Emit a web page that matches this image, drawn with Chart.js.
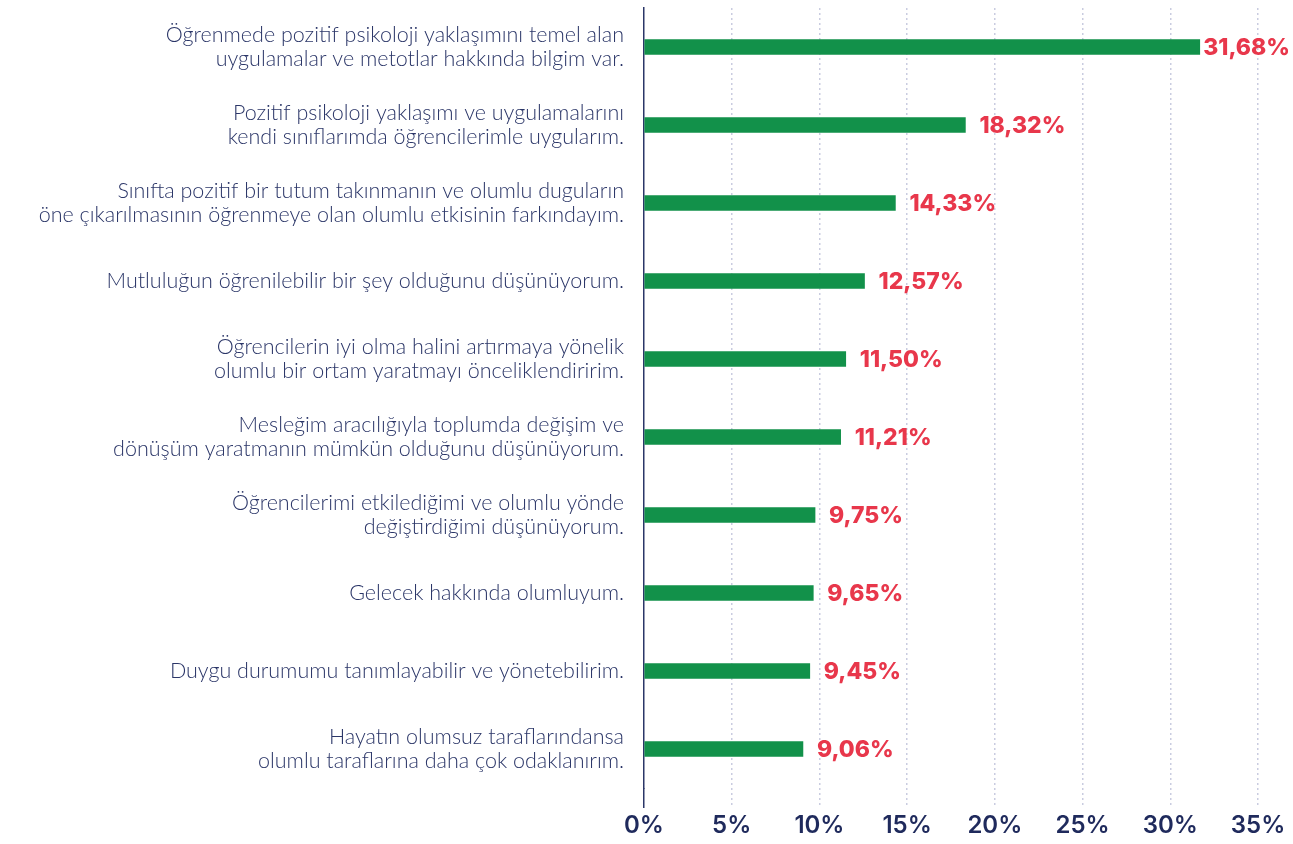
<!DOCTYPE html>
<html lang="tr">
<head>
<meta charset="utf-8">
<script src="https://cdn.jsdelivr.net/npm/chart.js@4"></script>
<style>
	html, body { margin: 0; padding: 0; background: #fff; }
	#wrap { width: 1293px; height: 844px; }
</style>
</head>
<body>
<div id="wrap"><canvas id="chart"></canvas></div>
<script>
var categories = [
	['Öğrenmede pozitif psikoloji yaklaşımını temel alan', 'uygulamalar ve metotlar hakkında bilgim var.'],
	['Pozitif psikoloji yaklaşımı ve uygulamalarını', 'kendi sınıflarımda öğrencilerimle uygularım.'],
	['Sınıfta pozitif bir tutum takınmanın ve olumlu duguların', 'öne çıkarılmasının öğrenmeye olan olumlu etkisinin farkındayım.'],
	['Mutluluğun öğrenilebilir bir şey olduğunu düşünüyorum.'],
	['Öğrencilerin iyi olma halini artırmaya yönelik', 'olumlu bir ortam yaratmayı önceliklendiririm.'],
	['Mesleğim aracılığıyla toplumda değişim ve', 'dönüşüm yaratmanın mümkün olduğunu düşünüyorum.'],
	['Öğrencilerimi etkilediğimi ve olumlu yönde', 'değiştirdiğimi düşünüyorum.'],
	['Gelecek hakkında olumluyum.'],
	['Duygu durumumu tanımlayabilir ve yönetebilirim.'],
	['Hayatın olumsuz taraflarındansa', 'olumlu taraflarına daha çok odaklanırım.']
];
var values = [31.68, 18.32, 14.33, 12.57, 11.50, 11.21, 9.75, 9.65, 9.45, 9.06];
var xTicks = [0, 5, 10, 15, 20, 25, 30, 35];

var navy = '#2b3668';
var green = '#12914a';
var red = '#e8374b';

// value labels to the right of each bar
var valueLabels = {
	id: 'valueLabels',
	afterDatasetsDraw: function (chart) {
		var ctx = chart.ctx;
		var meta = chart.getDatasetMeta(0);
		ctx.save();
		ctx.font = '800 23px Inter';
		ctx.fillStyle = red;
		ctx.textAlign = 'left';
		ctx.textBaseline = 'middle';
		meta.data.forEach(function (bar, i) {
			var txt = values[i].toFixed(2).replace('.', ',') + '%';
			var w = ctx.measureText(txt).width;
			var x = Math.min(bar.x + 14, chart.width - w - 3);
			ctx.fillText(txt, x, bar.y + 1);
		});
		ctx.restore();
	}
};

var ctx = document.getElementById('chart').getContext('2d');
var chart = new Chart(ctx, {
	type: 'bar',
	data: {
		labels: categories,
		datasets: [{
			data: values,
			backgroundColor: green,
			barThickness: 15
		}]
	},
	options: {
		indexAxis: 'y',
		responsive: true,
		maintainAspectRatio: false,
		animation: false,
		layout: { padding: { top: 8, right: 35, left: 0, bottom: 0 } },
		plugins: {
			legend: { display: false },
			tooltip: { enabled: false }
		},
		scales: {
			x: {
				min: 0,
				max: 35,
				afterBuildTicks: function (scale) {
					scale.ticks = xTicks.map(function (v) { return { value: v }; });
				},
				afterFit: function (scale) { scale.height = 56; },
				border: { display: false, dash: [2, 3] },
				grid: {
					color: function (c) { return c.tick && c.tick.value === 0 ? 'rgba(0,0,0,0)' : '#c9cce0'; },
					lineWidth: 1.5,
					tickLength: 20,
					tickColor: function (c) { return c.tick && c.tick.value === 0 ? navy : '#c9cce0'; },
					tickWidth: 1.5,
					tickBorderDash: function (c) { return c.tick && c.tick.value === 0 ? [] : [2, 3]; }
				},
				ticks: {
					padding: 3,
					color: '#1f2a5c',
					font: { family: 'Inter', size: 24, weight: '600' },
					callback: function (v) { return v + '%'; }
				}
			},
			y: {
				afterFit: function (scale) {
					scale.width = 644;
					scale.paddingTop = 0;
					scale.paddingBottom = 0;
				},
				border: { display: true, color: navy, width: 1.5 },
				grid: { display: false },
				ticks: {
					padding: 12,
					color: navy,
					font: { family: 'Lato', size: 21.5, weight: '300', lineHeight: 1.12 }
				}
			}
		}
	},
	plugins: [valueLabels]
});
</script>
</body>
</html>
